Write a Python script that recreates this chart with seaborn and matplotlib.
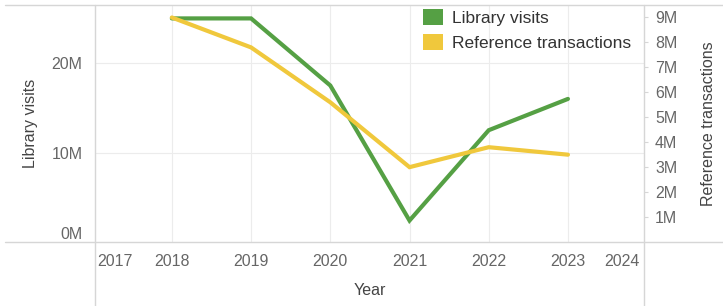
import matplotlib
matplotlib.use('Agg')
import matplotlib.pyplot as plt
import matplotlib.transforms as mtransforms
from matplotlib.lines import Line2D
from matplotlib.patches import Patch
import seaborn as sns
import pandas as pd
import numpy as np

# ====================== DATA ======================
years = [2018, 2019, 2020, 2021, 2022, 2023]
library_visits = [25.0, 25.0, 17.5, 2.4, 12.5, 16.0]            # millions
reference_transactions = [9.0, 7.8, 5.6, 3.0, 3.8, 3.5]          # millions
axis_years = [2017, 2018, 2019, 2020, 2021, 2022, 2023, 2024]
left_ticks = [0, 10, 20]
right_ticks = [1, 2, 3, 4, 5, 6, 7, 8, 9]

GREEN = '#55a044'
YELLOW = '#f0c83c'
TICK_COLOR = '#666666'
TITLE_COLOR = '#444444'
PANE = '#d6d6d6'
GRID = '#ececec'

df = pd.DataFrame({
    'Year': years,
    'Library visits': library_visits,
    'Reference transactions': reference_transactions,
})

sns.set_style('white')
plt.rcParams['font.family'] = ['Liberation Sans', 'DejaVu Sans']

W, H = 723, 306
fig = plt.figure(figsize=(W / 100, H / 100), dpi=100)
ax = fig.add_axes([95 / W, 64 / H, 549 / W, 237 / H])
ax2 = ax.twinx()

sns.lineplot(data=df, x='Year', y='Library visits', ax=ax, color=GREEN,
             linewidth=3, solid_joinstyle='miter')
sns.lineplot(data=df, x='Year', y='Reference transactions', ax=ax2, color=YELLOW,
             linewidth=3, solid_joinstyle='miter')

# ====================== Axes ======================
xlo, xhi = 2017.03, 2023.96
ax.set_xlim(xlo, xhi)
ax.set_ylim(0, 26.5)
ax2.set_ylim(0, 9.5)

for a in (ax, ax2):
    for s in a.spines.values():
        s.set_visible(False)

# x ticks (edge years squeezed inside the pane, like the original)
xpos = np.clip(axis_years, xlo, xhi)
ax.set_xticks(xpos)
ax.set_xticklabels([str(y) for y in axis_years])
ax.tick_params(axis='x', length=0, pad=9, labelsize=11.5, labelcolor=TICK_COLOR)
xl = ax.get_xticklabels()
xl[0].set_transform(xl[0].get_transform() + mtransforms.ScaledTranslation(20 / 100, 0, fig.dpi_scale_trans))
xl[-1].set_transform(xl[-1].get_transform() + mtransforms.ScaledTranslation(-22 / 100, 0, fig.dpi_scale_trans))

ax.set_yticks(left_ticks)
ax.set_yticklabels([f'{v}M' for v in left_ticks])
ax.tick_params(axis='y', length=0, pad=9, labelsize=11.5, labelcolor=TICK_COLOR)
ax.get_yticklabels()[0].set_verticalalignment('bottom')

ax2.set_yticks(right_ticks)
ax2.set_yticklabels([f'{v}M' for v in right_ticks])
ax2.tick_params(axis='y', length=3, width=0.8, color=PANE, pad=5,
                labelsize=11.5, labelcolor=TICK_COLOR)

# grid
ax.grid(False)
ax2.grid(False)
for y in left_ticks[1:]:
    ax.axhline(y, color=GRID, lw=0.8, zorder=0)
for x in years:
    ax.axvline(x, color=GRID, lw=0.8, zorder=0)

ax.set_xlabel('Year', fontsize=11.5, color=TITLE_COLOR, labelpad=10)
ax.set_ylabel('Library visits', fontsize=11.5, color=TITLE_COLOR)
ax.yaxis.set_label_coords((38 - 95) / 549, 0.5)
ax2.set_ylabel('Reference transactions', fontsize=11.5, color=TITLE_COLOR)
ax2.yaxis.set_label_coords((701 - 95) / 549, 0.5)

# ====================== Pane lines ======================
def fline(x0, y0, x1, y1):
    fig.add_artist(Line2D([x0 / W, x1 / W], [1 - y0 / H, 1 - y1 / H],
                          color=PANE, lw=1, transform=fig.transFigure))

fline(5, 5, W, 5)
fline(5, 242, W, 242)
fline(95, 5, 95, H)
fline(644, 5, 644, H)

# ====================== Legend ======================
handles = [Patch(facecolor=GREEN, edgecolor='none'),
           Patch(facecolor=YELLOW, edgecolor='none')]
leg = ax2.legend(handles, ['Library visits', 'Reference transactions'],
                 loc='upper left', bbox_to_anchor=(423 / W, 1 - 9 / H),
                 bbox_transform=fig.transFigure, frameon=False, borderpad=0,
                 borderaxespad=0, fontsize=12.5, handlelength=1.15,
                 handleheight=1.05, handletextpad=0.5, labelspacing=0.45)
for t in leg.get_texts():
    t.set_color('#333333')

fig.savefig('out.png', dpi=100)
